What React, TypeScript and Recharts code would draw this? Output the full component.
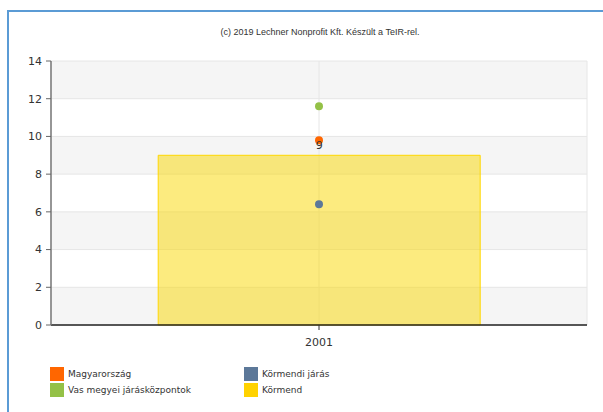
import React from 'react';
import { ComposedChart, Bar, Line, XAxis, YAxis, CartesianGrid, LabelList } from 'recharts';

const categories = ['2001'];
const kormend = [9];
const magyarorszag = [9.8];
const vasMegyei = [11.6];
const kormendiJaras = [6.4];
const yTicks = [0, 2, 4, 6, 8, 10, 12, 14];

const data = categories.map((c, i) => ({
  year: c,
  kormend: kormend[i],
  magyarorszag: magyarorszag[i],
  vas: vasMegyei[i],
  jaras: kormendiJaras[i],
}));

const legendItems = [
  { name: 'Magyarország', color: '#FF6600', x: 50, y: 367 },
  { name: 'Körmendi járás', color: '#5C7899', x: 244, y: 367 },
  { name: 'Vas megyei járásközpontok', color: '#94C147', x: 50, y: 383 },
  { name: 'Körmend', color: '#FFD200', x: 244, y: 383 },
];

const font = 'Tahoma, "DejaVu Sans", "Liberation Sans", sans-serif';

export default function App() {
  return (
    <div style={{ position: 'absolute', left: 0, top: 0, width: 603, height: 412, background: '#fff', fontFamily: font }}>
      <div style={{ position: 'absolute', left: 7, top: 10, width: 596, height: 402, borderLeft: '2px solid #5B9BD5', borderTop: '2px solid #5B9BD5', boxSizing: 'border-box' }} />
      <div style={{ position: 'absolute', left: 0, top: 27, width: 640, textAlign: 'center', fontSize: 9, color: '#333', fontFamily: '"Liberation Sans", Arial, sans-serif' }}>
        (c) 2019 Lechner Nonprofit Kft. Készült a TeIR-rel.
      </div>
      <div style={{ position: 'absolute', left: 0, top: 0 }}>
        <ComposedChart width={603} height={412} data={data} margin={{ top: 61, right: 16, bottom: 0, left: 0 }} barCategoryGap="20%">
          <CartesianGrid stroke="#e6e6e6" horizontalFill={['#f5f5f5', '#ffffff']} fillOpacity={1} />
          <XAxis dataKey="year" tick={{ fontSize: 11, fill: '#333', fontFamily: font }} tickLine={{ stroke: '#333' }} axisLine={{ stroke: '#222', strokeWidth: 1.5 }} tickSize={5} tickMargin={8} height={87} />
          <YAxis domain={[0, 14]} ticks={yTicks} width={51} tick={{ fontSize: 11, fill: '#333', fontFamily: font }} tickLine={{ stroke: '#666' }} axisLine={{ stroke: '#777', strokeWidth: 1.5 }} tickSize={5} tickMargin={4} interval={0} />
          <Bar dataKey="kormend" fill="#F9D700" fillOpacity={0.5} stroke="#FFD700" strokeWidth={1} isAnimationActive={false}>
            <LabelList dataKey="kormend" position="top" offset={6} style={{ fontSize: 11, fill: '#333', fontFamily: font }} />
          </Bar>
          <Line dataKey="jaras" stroke="none" dot={{ r: 4, fill: '#5C7899', stroke: 'none' }} isAnimationActive={false} />
          <Line dataKey="vas" stroke="none" dot={{ r: 4, fill: '#94C147', stroke: 'none' }} isAnimationActive={false} />
          <Line dataKey="magyarorszag" stroke="none" dot={{ r: 4, fill: '#FF6600', stroke: 'none' }} isAnimationActive={false} />
        </ComposedChart>
      </div>
      {legendItems.map((it) => (
        <div key={it.name} style={{ position: 'absolute', left: it.x, top: it.y, height: 14, display: 'flex', alignItems: 'center' }}>
          <div style={{ width: 14, height: 14, background: it.color }} />
          <span style={{ marginLeft: 4, fontSize: 9, color: '#333', fontFamily: font }}>{it.name}</span>
        </div>
      ))}
    </div>
  );
}
